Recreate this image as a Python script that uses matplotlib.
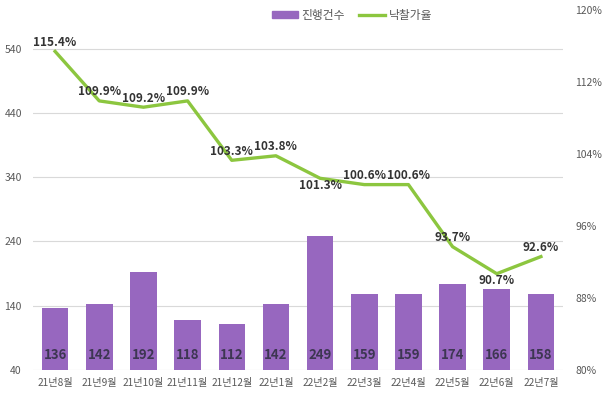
import matplotlib.pyplot as plt
from matplotlib.patches import Patch
from matplotlib.lines import Line2D

plt.rcParams['font.family'] = ['Noto Sans CJK KR', 'DejaVu Sans']

months = ['21년8월', '21년9월', '21년10월', '21년11월', '21년12월', '22년1월',
          '22년2월', '22년3월', '22년4월', '22년5월', '22년6월', '22년7월']
counts = [136, 142, 192, 118, 112, 142, 249, 159, 159, 174, 166, 158]
rates = [115.4, 109.9, 109.2, 109.9, 103.3, 103.8, 101.3, 100.6, 100.6, 93.7, 90.7, 92.6]
# label above (1) or below (-1) the line point
rate_pos = [1, 1, 1, 1, 1, 1, -1, 1, 1, 1, -1, 1]

bar_col = '#9767BF'
line_col = '#8CC63F'
x = list(range(len(months)))

fig = plt.figure(figsize=(6.02, 3.96), dpi=100)
ax = fig.add_axes([33 / 602, 1 - 370 / 396, 530 / 602, 360 / 396])
ax2 = ax.twinx()

ax.bar(x, counts, width=0.6, color=bar_col, zorder=2)
ax.set_ylim(40, 600)
ax.set_yticks(range(40, 541, 100))
ax.set_xlim(-0.5, len(months) - 0.5)
ax.set_xticks(x)
ax.set_xticklabels(months, fontsize=7.3, color='#595959')
ax.grid(axis='y', color='#d9d9d9', lw=0.8, zorder=0)
ax.set_axisbelow(True)
ax.tick_params(axis='y', length=0, labelsize=7.5, labelcolor='#595959', pad=8)
ax.tick_params(axis='x', length=0, pad=6)
for i, c in enumerate(counts):
    ax.text(i, 52, str(c), ha='center', va='bottom', fontsize=9.5, fontweight='bold', color='#3d3652', zorder=3)

ax2.plot(x, rates, color=line_col, lw=2.4, zorder=4)
ax2.set_ylim(80, 120)
ax2.set_yticks(range(80, 121, 8))
ax2.set_yticklabels([f'{v}%' for v in range(80, 121, 8)])
ax2.tick_params(axis='y', length=0, labelsize=7.5, labelcolor='#595959', pad=9)
for i, r in enumerate(rates):
    off = 6.5 if rate_pos[i] > 0 else -5
    ax2.annotate(f'{r}%', (i, r), xytext=(0, off), textcoords='offset points',
                 ha='center', va='center', fontsize=8.5, fontweight='bold', color='#333333', zorder=5)

for a in (ax, ax2):
    for s in a.spines.values():
        s.set_visible(False)

handles = [Patch(color=bar_col, label='진행건수'), Line2D([], [], color=line_col, lw=2.4, label='낙찰가율')]
fig.legend(handles=handles, loc='center', bbox_to_anchor=(0.585, 0.962), ncol=2, frameon=False,
           fontsize=8.5, handlelength=2.2, handleheight=0.5, columnspacing=1.2, handletextpad=0.3,
           labelcolor='#595959')

fig.savefig('out.png', dpi=100)
